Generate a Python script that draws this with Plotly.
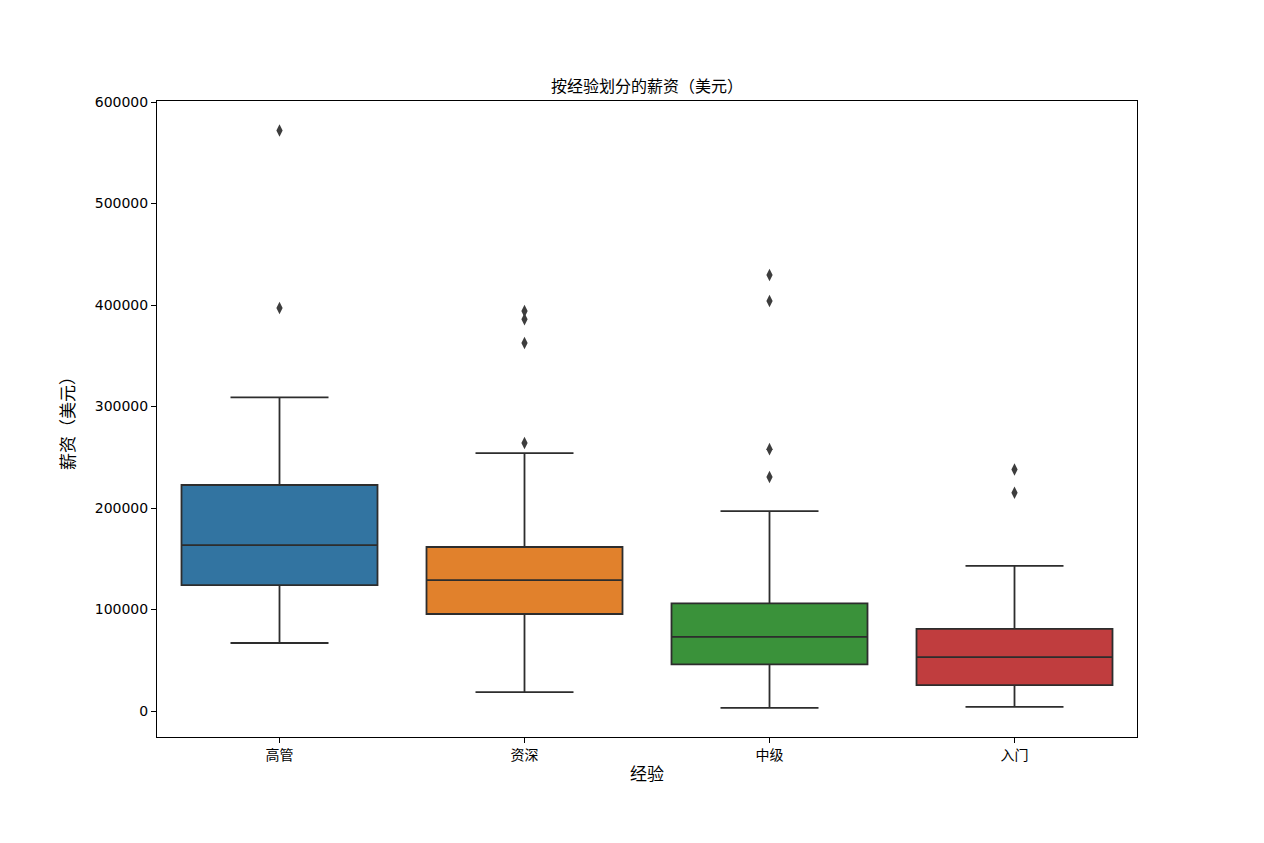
import plotly.graph_objects as go

cats = ["高管", "资深", "中级", "入门"]
lower = [67000, 18700, 3000, 4000]
q1 = [124000, 95600, 46000, 25600]
median = [163500, 129000, 73000, 53000]
q3 = [222700, 161600, 106000, 81000]
upper = [309000, 254000, 197000, 143000]
outliers = [[572000, 397000], [394000, 386000, 362600, 264000], [429600, 404000, 258000, 230500], [238000, 215000]]
colors = ["#3274a1", "#e1812c", "#3a923a", "#c03d3e"]

fig = go.Figure()
for i, c in enumerate(cats):
    fig.add_trace(go.Box(x=[c], q1=[q1[i]], median=[median[i]], q3=[q3[i]],
                         lowerfence=[lower[i]], upperfence=[upper[i]],
                         fillcolor=colors[i], line=dict(color="#2d2d2d", width=1.8),
                         width=0.8, whiskerwidth=0.5, boxpoints=False, showlegend=False))
    fig.add_trace(go.Scatter(x=[c]*len(outliers[i]), y=outliers[i], mode="markers",
                             marker=dict(symbol="diamond-tall", color="#3d3d3d", size=9),
                             showlegend=False))

font = "DejaVu Sans, Noto Sans CJK SC"
fig.update_layout(
    width=1264, height=843, plot_bgcolor="white", paper_bgcolor="white",
    margin=dict(l=149, r=135, t=93, b=114),
    font=dict(family=font, size=14, color="black"),
    title=dict(text="按经验划分的薪资（美元）", x=(149 + 1129) / 2 / 1264, xanchor="center", y=1 - 78/843, yanchor="middle", font=dict(size=16)),
    xaxis=dict(title=dict(text="经验", standoff=6), showline=True, mirror=True, linecolor="black",
               ticks="outside", tickcolor="black", showgrid=False, range=[-0.5, 3.5],
               tickfont=dict(size=14), categoryorder="array", categoryarray=cats),
    yaxis=dict(title=dict(text="薪资（美元）"), showline=True, mirror=True, linecolor="black",
               ticks="outside", tickcolor="black", showgrid=False, zeroline=False,
               range=[-25600, 601000], tickvals=[0, 100000, 200000, 300000, 400000, 500000, 600000],
               tickformat="d", tickfont=dict(size=14)),
)
fig.write_html("out.html")
